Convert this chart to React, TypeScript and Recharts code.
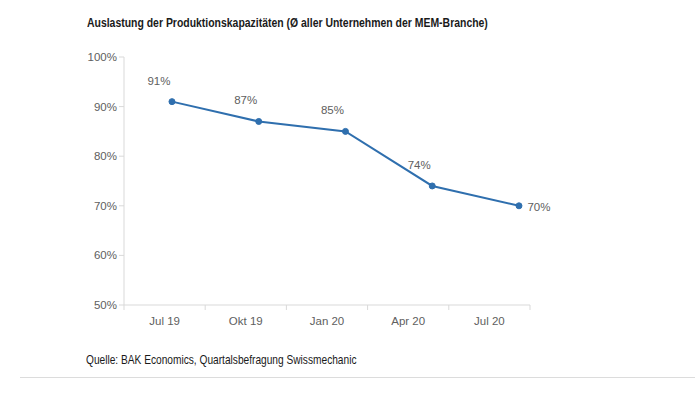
import { LineChart, Line, XAxis, YAxis, LabelList } from "recharts";

const months = ["Jul 19", "Okt 19", "Jan 20", "Apr 20", "Jul 20"];
const utilisation = [91, 87, 85, 74, 70];
const yTicks = [50, 60, 70, 80, 90, 100];
const bandEdges = [0, 1, 2, 3, 4, 5];
const bandCentres = [0.5, 1.5, 2.5, 3.5, 4.5];

const BLUE = "#2f6fae";
const GREY_TEXT = "#606060";
const GREY_LINE = "#d9d9d9";
const FONT = "'Liberation Sans', Arial, sans-serif";

const data = months.map((m, i) => ({ idx: i, month: m, value: utilisation[i] }));

const tickStyle = { fontSize: 11.5, fontFamily: FONT, fill: GREY_TEXT };

function ValueLabel(props: any) {
  const { x, y, value, index } = props;
  const last = index === utilisation.length - 1;
  return (
    <text
      x={last ? x + 20 : x - 13}
      y={last ? y + 1 : y - 21}
      textAnchor="middle"
      dominantBaseline="central"
      fontSize={11.5}
      fontFamily={FONT}
      fill={GREY_TEXT}
    >
      {value}%
    </text>
  );
}

export default function App() {
  return (
    <div
      style={{
        position: "fixed",
        left: 0,
        top: 0,
        width: 695,
        height: 395,
        background: "#fff",
        overflow: "hidden",
      }}
    >
      <div
        style={{
          position: "absolute",
          left: 87,
          top: 16,
          fontFamily: FONT,
          fontWeight: 700,
          fontSize: 12,
          color: "#1a1a1a",
          whiteSpace: "nowrap",
          transform: "scaleX(0.87)",
          transformOrigin: "left center",
        }}
      >
        Auslastung der Produktionskapazitäten (Ø aller Unternehmen der MEM-Branche)
      </div>
      <LineChart
        width={695}
        height={395}
        data={data}
        margin={{ top: 57, right: 165, bottom: 60, left: 84 }}
      >
        <YAxis
          width={40}
          type="number"
          domain={[50, 100]}
          ticks={yTicks}
          tickFormatter={(v) => `${v}%`}
          tick={tickStyle}
          axisLine={{ stroke: GREY_LINE }}
          tickLine={{ stroke: GREY_LINE }}
          tickSize={5}
          tickMargin={2}
        />
        <XAxis
          xAxisId="a_marks"
          type="number"
          dataKey="idx"
          domain={[0, 5]}
          ticks={bandEdges}
          allowDataOverflow
          tickFormatter={() => ""}
          axisLine={{ stroke: GREY_LINE }}
          tickLine={{ stroke: GREY_LINE }}
          tickSize={5}
          height={1}
        />
        <XAxis
          xAxisId="b_labels"
          type="number"
          dataKey="idx"
          domain={[0, 5]}
          ticks={bandCentres}
          allowDataOverflow
          tickFormatter={(v) => months[Math.floor(v)]}
          tick={tickStyle}
          axisLine={false}
          tickLine={false}
          tickMargin={5}
          height={29}
        />
        <XAxis
          xAxisId="c_line"
          type="number"
          dataKey="idx"
          domain={[-0.553, 4.127]}
          allowDataOverflow
          height={0}
          hide
        />
        <Line
          xAxisId="c_line"
          type="linear"
          dataKey="value"
          stroke={BLUE}
          strokeWidth={2}
          dot={{ r: 3, fill: BLUE, stroke: BLUE, strokeWidth: 1 }}
          isAnimationActive={false}
        >
          <LabelList dataKey="value" content={<ValueLabel />} />
        </Line>
      </LineChart>
      <div
        style={{
          position: "absolute",
          left: 86,
          top: 353,
          fontFamily: FONT,
          fontSize: 12.4,
          color: "#1a1a1a",
          whiteSpace: "nowrap",
          transform: "scaleX(0.82)",
          transformOrigin: "left center",
        }}
      >
        Quelle: BAK Economics, Quartalsbefragung Swissmechanic
      </div>
      <div
        style={{
          position: "absolute",
          left: 20,
          right: 0,
          top: 377,
          height: 1,
          background: "#dcdcdc",
        }}
      />
    </div>
  );
}
